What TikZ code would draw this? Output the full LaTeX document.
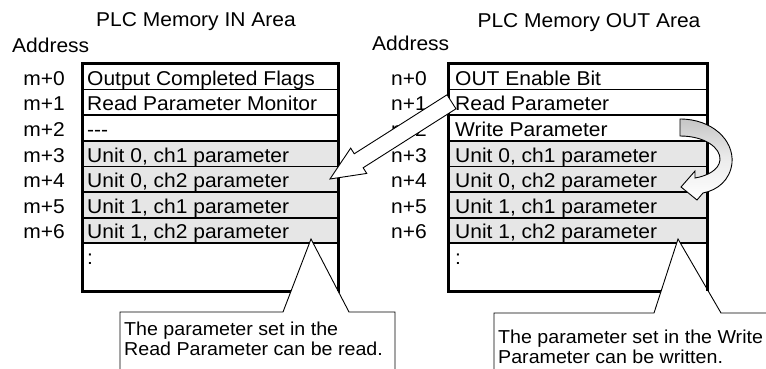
\documentclass[tikz,border=0pt]{standalone}
\usepackage{fontspec}
\setmainfont{Liberation Sans}[FakeStretch=1.05]
\usetikzlibrary{calc}
\definecolor{rowgray}{HTML}{E6E6E6}
\tikzset{
  rowtxt/.style={anchor=base west, inner sep=0pt, font=\fontsize{20}{22}\selectfont},
  addr/.style={anchor=base east, inner sep=0pt, font=\fontsize{20}{22}\selectfont},
  ttl/.style={anchor=base, inner sep=0pt, font=\fontsize{20}{22}\selectfont},
  addrhead/.style={anchor=base west, inner sep=0pt, font=\fontsize{20}{22}\selectfont},
  calltxt/.style={anchor=base west, inner sep=0pt, font=\fontsize{18.7}{20}\selectfont},
  rowline/.style={line width=1.8pt},
  border/.style={line width=3pt},
  callout/.style={fill=white, draw=black, line width=0.9pt, line join=miter},
  hollow/.style={fill=white, draw=black, line width=0.9pt, line join=miter}
}
\begin{document}
\begin{tikzpicture}[x=1pt, y=-1pt]
\useasboundingbox (0,0) rectangle (766,369);
\fill[white] (0,0) rectangle (766,369);

% ---------- titles ----------
\node[ttl] (tin) at (196,27) {PLC Memory IN Area};
\node[ttl] (tout) at (589,28) {PLC Memory OUT Area};
\node[addrhead] (adl) at (12,53) {Address};
\node[addrhead] (adr) at (372,51) {Address};

% ---------- left table ----------
\fill[rowgray] (82,140.8) rectangle (338.5,243.2);
\foreach \k in {1,...,7} {
  \draw[rowline] (82,{64+25.6*\k}) -- (338.5,{64+25.6*\k});
}
\draw[border] (82,64) rectangle (338.5,291);

% ---------- right table ----------
\fill[rowgray] (448.5,140.8) rectangle (707,243.2);
\foreach \k in {1,...,7} {
  \draw[rowline] (448.5,{64+25.6*\k}) -- (707,{64+25.6*\k});
}
\draw[border] (448.5,64) rectangle (707,291);

% ---------- left rows ----------
\node[rowtxt] (L0) at (87,85.3) {Output Completed Flags};
\node[rowtxt] (L1) at (87,110.9) {Read Parameter Monitor};
\node[rowtxt] (L2) at (87,136.5) {-{}-{}-};
\node[rowtxt] (L3) at (87,162.1) {Unit 0, ch1 parameter};
\node[rowtxt] (L4) at (87,187.7) {Unit 0, ch2 parameter};
\node[rowtxt] (L5) at (87,213.3) {Unit 1, ch1 parameter};
\node[rowtxt] (L6) at (87,238.9) {Unit 1, ch2 parameter};
\node[rowtxt] (L7) at (87,264.5) {:};

\node[addr] (m0) at (65,85.3) {m+0};
\node[addr] (m1) at (65,110.9) {m+1};
\node[addr] (m2) at (65,136.5) {m+2};
\node[addr] (m3) at (65,162.1) {m+3};
\node[addr] (m4) at (65,187.7) {m+4};
\node[addr] (m5) at (65,213.3) {m+5};
\node[addr] (m6) at (65,238.9) {m+6};

% ---------- right rows ----------
\node[rowtxt] (R0) at (455,85.3) {OUT Enable Bit};
\node[rowtxt] (R1) at (455,110.9) {Read Parameter};
\node[rowtxt] (R2) at (455,136.5) {Write Parameter};
\node[rowtxt] (R3) at (455,162.1) {Unit 0, ch1 parameter};
\node[rowtxt] (R4) at (455,187.7) {Unit 0, ch2 parameter};
\node[rowtxt] (R5) at (455,213.3) {Unit 1, ch1 parameter};
\node[rowtxt] (R6) at (455,238.9) {Unit 1, ch2 parameter};
\node[rowtxt] (R7) at (455,264.5) {:};

\node[addr] (n0) at (427,85.3) {n+0};
\node[addr] (n1) at (427,110.9) {n+1};
\node[addr] (n2) at (427,136.5) {n+2};
\node[addr] (n3) at (427,162.1) {n+3};
\node[addr] (n4) at (427,187.7) {n+4};
\node[addr] (n5) at (427,213.3) {n+5};
\node[addr] (n6) at (427,238.9) {n+6};

% ---------- callouts ----------
\coordinate (tipA) at (311,239);
\coordinate (tipB) at (678,239);
\draw[callout] (120,369) -- (120,312) -- (283,312) -- (tipA) -- (349,312) -- (395,312) -- (395,369);
\draw[callout] (494,369) -- (494,313) -- (654,313) -- (tipB) -- (721,313) -- (766,313);
\draw[border] (338.5,64) -- (338.5,291);
\draw[border] (707,64) -- (707,291);

\node[calltxt] (c1a) at (124,335) {The parameter set in the};
\node[calltxt] (c1b) at (124,355) {Read Parameter can be read.};
\node[calltxt] (c2a) at (498,343) {The parameter set in the Write};
\node[calltxt] (c2b) at (498,363) {Parameter can be written.};

% ---------- straight hollow arrow (Read Parameter -> IN area) ----------
\coordinate (ah) at (330,179);
\coordinate (at) at (451.5,101.8);
\coordinate (ab) at ($(ah)!34pt!(at)$);
\draw[hollow] (ah)
  -- ($(ab)!15pt!90:(at)$) -- ($(ab)!8.3pt!90:(at)$)
  -- ($(at)!8.3pt!-90:(ab)$) -- ($(at)!8.3pt!90:(ab)$)
  -- ($(ab)!8.3pt!-90:(at)$) -- ($(ab)!15pt!-90:(at)$) -- cycle;

% ---------- curved arrow (Write Parameter -> Unit rows) ----------
\draw[line width=0.9pt, line join=miter, top color=gray!45, bottom color=white, middle color=gray!15]
  (680,119) .. controls (712,119) and (734,140) .. (732,163)
  .. controls (730,180) and (718,190) .. (703,193)
  -- (697,200) -- (681,187) -- (695,171) -- (695,178)
  .. controls (707,176) and (719,170) .. (720,160)
  .. controls (721,148) and (705,136) .. (680,136) -- cycle;
\end{tikzpicture}
\end{document}
